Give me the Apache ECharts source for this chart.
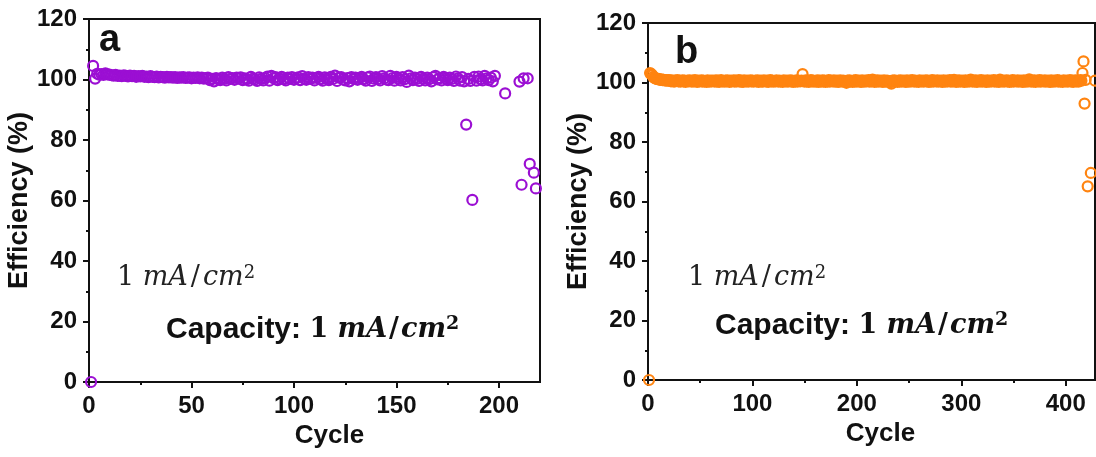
<!DOCTYPE html>
<html>
<head>
<meta charset="utf-8">
<title>Coulombic efficiency vs cycle</title>
<script src="https://cdn.jsdelivr.net/npm/echarts@6/dist/echarts.min.js"></script>
<style>
  html, body { margin: 0; padding: 0; background: #fff; }
  #chart { width: 1096px; height: 457px; }
</style>
</head>
<body>
<div id="chart"></div>
<script>
// panel a: efficiency (%) for cycles 1..198, one value per cycle
const effA = [
  0, 104.5, 100.3, 101.9, 101.6, 101.8, 101.5, 102.0, 101.7, 101.6,
  101.4, 101.3, 101.5, 101.2, 101.3, 101.1, 101.4, 101.2, 101.0, 101.3,
  101.1, 101.2, 100.9, 101.1, 101.0, 101.2, 100.9, 101.0, 100.8, 101.1,
  100.9, 100.8, 101.0, 100.7, 100.9, 100.8, 100.6, 100.9, 100.7, 100.8,
  100.6, 100.8, 100.5, 100.7, 100.6, 100.8, 100.5, 100.6, 100.7, 100.4,
  100.6, 100.5, 100.7, 100.4, 100.6, 100.3, 100.5, 100.6, 99.8, 100.2,
  99.4, 100.5, 100.1, 99.8, 100.6, 100.3, 99.7, 100.8, 100.2, 100.5,
  99.9, 100.6, 100.3, 100.7, 99.8, 100.4, 100.1, 99.6, 100.9, 100.3,
  100.0, 99.5, 100.7, 100.2, 99.7, 100.5, 101.0, 99.6, 101.2, 100.4,
  100.8, 99.8, 100.3, 100.9, 100.1, 99.7, 100.6, 100.2, 100.8, 99.9,
  100.4, 100.7, 99.8, 101.1, 100.3, 99.9, 100.8, 100.2, 100.6, 99.7,
  100.5, 100.9, 100.1, 99.6, 100.7, 100.3, 99.8, 100.9, 100.2, 101.3,
  99.5, 100.6, 100.8, 100.0, 99.7, 100.5, 99.4, 100.8, 100.2, 100.6,
  99.9, 100.4, 100.9, 100.1, 99.6, 100.7, 101.0, 99.5, 100.3, 100.8,
  100.2, 99.7, 101.1, 100.4, 100.0, 99.8, 101.2, 100.5, 99.6, 100.9,
  100.3, 99.7, 100.8, 100.1, 99.2, 101.3, 100.4, 99.8, 100.6, 100.2,
  99.5, 100.9, 100.3, 99.7, 100.6, 100.1, 99.4, 100.8, 101.2, 100.0,
  100.5, 99.7, 100.9, 100.3, 99.8, 100.6, 100.2, 99.5, 101.0, 100.4,
  99.6, 100.8, 99.4, 85.1, 100.2, 99.5, 60.2, 100.9, 99.6, 101.0,
  100.1, 99.7, 101.2, 100.4, 99.8, 100.6, 99.4, 101.2
];
// panel a: scattered last cycles
const tailCycA = [203, 210, 211, 212, 214, 215, 217, 218];
const tailEffA = [95.4, 99.3, 65.2, 100.4, 100.4, 72.1, 69.2, 64.0];

// panel b: efficiency (%) for cycles 1..412
const effB = [
  0, 103.2, 102.8, 102.5, 101.9, 101.6, 101.4, 101.3, 101.1, 101.2,
  101.0, 100.9, 101.1, 100.8, 100.9, 100.7, 100.8, 100.6, 100.7, 100.8,
  100.6, 100.4, 100.7, 100.5, 100.3, 100.6, 100.5, 100.8, 100.4, 100.6, 100.3, 100.5, 100.7, 100.4, 100.6, 100.2, 100.5, 100.6, 100.4, 100.7,
  100.5, 100.3, 100.6, 100.4, 100.8, 100.5, 100.2, 100.6, 100.4, 100.5, 100.7, 100.3, 100.6, 100.4, 100.5, 100.2, 100.7, 100.5, 100.3, 100.6,
  100.4, 100.6, 100.5, 100.3, 100.7, 100.4, 100.6, 100.2, 100.5, 100.8, 100.4, 100.5, 100.3, 100.6, 100.4, 100.7, 100.5, 100.2, 100.6, 100.4,
  100.5, 100.7, 100.3, 100.6, 100.4, 100.5, 100.8, 100.3, 100.6, 100.4, 100.2, 100.7, 100.5, 100.4, 100.6, 100.3, 100.5, 100.7, 100.4, 100.6,
  100.3, 100.5, 100.6, 100.4, 100.7, 100.2, 100.5, 100.6, 100.4, 100.3, 100.7, 100.5, 100.4, 100.6, 100.2, 100.5, 100.8, 100.4, 100.6, 100.3,
  100.5, 100.4, 100.7, 100.5, 100.3, 100.6, 100.4, 100.5, 100.2, 100.7, 100.5, 100.4, 100.6, 100.3, 100.5, 100.7, 100.4, 100.6, 100.2, 100.5,
  100.4, 100.7, 100.3, 100.6, 100.5, 100.4, 100.6,
  102.8,
  100.5, 100.3, 100.7, 100.4, 100.6, 100.2, 100.5, 100.8, 100.4, 100.6, 100.3, 100.5,
  100.4, 100.7, 100.2, 100.6, 100.5, 100.3, 100.7, 100.4, 100.6, 100.2, 100.5, 100.4, 100.8, 100.3, 100.6, 100.5, 100.4, 100.7, 100.3, 100.5,
  100.6, 100.2, 100.4, 100.7, 100.5, 100.3, 100.6, 100.4, 100.5, 99.9, 100.6, 100.3, 100.7, 100.4, 100.5, 100.2, 100.6, 100.4, 100.8, 100.3,
  100.5, 100.6, 100.4, 100.2, 100.7, 100.5, 100.3, 100.6, 100.4, 100.5, 100.8, 100.3, 100.6, 100.4, 101.0, 100.5, 100.2, 100.6, 100.4, 100.7,
  100.3, 100.5, 100.6, 100.4, 100.2, 100.7, 100.5, 100.3, 100.6, 100.4, 100.5, 100.1, 99.6, 100.6, 100.3, 100.7, 100.4, 100.5, 100.2, 100.6,
  100.4, 100.7, 100.3, 100.5, 100.6, 100.4, 100.2, 100.7, 100.5, 100.3, 100.6, 100.4, 100.8, 100.5, 100.3, 100.6, 100.4, 100.5, 100.2, 100.7,
  100.5, 100.4, 100.6, 100.3, 100.5, 100.7, 100.4, 100.6, 100.2, 100.5, 100.4, 100.8, 100.3, 100.6, 100.5, 100.4, 100.7, 100.3, 100.5, 100.6,
  100.4, 100.2, 100.7, 100.5, 100.3, 100.6, 100.4, 100.5, 100.8, 100.3, 100.6, 100.4, 100.9, 100.5, 100.2, 100.6, 100.4, 100.7, 100.3, 100.5,
  100.6, 100.4, 100.2, 100.7, 100.5, 100.3, 100.6, 100.4, 101.0, 100.5, 100.3, 100.6, 100.4, 100.7, 100.2, 100.5, 100.6, 100.4, 100.8, 100.3,
  100.5, 100.6, 100.4, 100.2, 100.7, 100.5, 100.3, 100.6, 100.4, 100.5, 100.8, 100.3, 100.6, 100.4, 100.5, 100.2, 101.0, 100.5, 100.4, 100.6,
  100.3, 100.5, 100.7, 100.4, 100.6, 100.2, 100.5, 100.4, 100.8, 100.3, 100.6, 100.5, 100.4, 100.7, 100.3, 100.5, 100.6, 100.4, 100.2, 100.7,
  100.5, 100.3, 100.6, 100.4, 101.1, 100.5, 100.3, 100.6, 100.4, 100.7, 100.2, 100.5, 100.6, 100.4, 100.8, 100.3, 100.6, 100.5, 100.4, 100.7,
  100.3, 100.5, 100.6, 100.4, 100.2, 100.7, 100.5, 100.3, 100.6, 100.4, 100.5, 100.8, 100.3, 100.6, 100.4, 100.5, 100.2, 100.7, 100.5, 100.4,
  100.6, 100.3, 100.5, 100.8, 100.4, 100.6, 100.2, 100.5, 100.7, 100.4, 100.6, 100.3
];
// panel b: scattered last cycles
const tailCycB = [413, 414, 415, 416, 417, 418, 419, 421, 424, 428];
const tailEffB = [100.5, 100.8, 100.6, 103.2, 107.1, 92.9, 100.9, 65.1, 69.6, 100.6];

const xTicksA = [0, 50, 100, 150, 200];
const xTicksB = [0, 100, 200, 300, 400];

const PURPLE = '#9b0fd3';
const ORANGE = '#ff8410';
const SANS = '"Liberation Sans", Arial, sans-serif';
const SERIF = '"DejaVu Serif", serif';

function pairs(vals, tailC, tailV) {
  const out = vals.map((v, i) => [i + 1, v]);
  tailC.forEach((c, i) => out.push([c, tailV[i]]));
  return out;
}

function xAxisFor(gridIndex, max, interval, ticks, padLeft) {
  return {
    gridIndex: gridIndex,
    type: 'value',
    min: 0,
    max: max,
    interval: interval,
    name: 'Cycle',
    nameLocation: 'middle',
    nameGap: 41,
    nameTextStyle: { fontFamily: SANS, fontWeight: 'bold', fontSize: 26, color: '#111', padding: [0, 0, 0, padLeft] },
    axisLine: { lineStyle: { color: '#111', width: 2 } },
    axisTick: { length: 6, lineStyle: { color: '#111', width: 2 }, customValues: ticks },
    minorTick: { show: true, splitNumber: 2, length: 3, lineStyle: { color: '#111', width: 2 } },
    axisLabel: { customValues: ticks, margin: 12, fontFamily: SANS, fontWeight: 'bold', fontSize: 24, color: '#111' },
    splitLine: { show: false }
  };
}

function yAxisFor(gridIndex) {
  return {
    gridIndex: gridIndex,
    type: 'value',
    min: 0,
    max: 120,
    interval: 20,
    name: 'Efficiency (%)',
    nameLocation: 'middle',
    nameGap: 54,
    nameTextStyle: { fontFamily: SANS, fontWeight: 'bold', fontSize: 27, color: '#111' },
    axisLine: { show: true, lineStyle: { color: '#111', width: 2 } },
    axisTick: { show: true, length: 6, lineStyle: { color: '#111', width: 2 } },
    minorTick: { show: true, splitNumber: 2, length: 3, lineStyle: { color: '#111', width: 2 } },
    axisLabel: { margin: 12, fontFamily: SANS, fontWeight: 'bold', fontSize: 24, color: '#111' },
    splitLine: { show: false }
  };
}

function scatter(idx, data, color) {
  return {
    type: 'scatter',
    xAxisIndex: idx,
    yAxisIndex: idx,
    data: data,
    symbol: 'circle',
    symbolSize: 10,
    clip: true,
    itemStyle: { color: 'rgba(255,255,255,0)', borderColor: color, borderWidth: 2.2, opacity: 1 }
  };
}

// annotation text: plain "1 mA/cm2" and bold "Capacity: 1 mA/cm2"
const unitRich = {
  n: { fontFamily: SERIF, fontSize: 27, fill: '#222' },
  i: { fontFamily: SERIF, fontSize: 27, fontStyle: 'italic', fill: '#222' },
  sl: { fontFamily: SERIF, fontSize: 27, fill: '#222', padding: [0, 3, 0, 3] },
  s: { fontFamily: SERIF, fontSize: 18, fill: '#222', verticalAlign: 'top' }
};
const capRich = {
  c: { fontFamily: SANS, fontSize: 30, fontWeight: 'bold', fill: '#111' },
  n: { fontFamily: SERIF, fontSize: 27, fontWeight: 'bold', fill: '#111' },
  i: { fontFamily: SERIF, fontSize: 27, fontWeight: 'bold', fontStyle: 'italic', fill: '#111' },
  sl: { fontFamily: SERIF, fontSize: 27, fontWeight: 'bold', fill: '#111', padding: [0, 2, 0, 2] },
  s: { fontFamily: SERIF, fontSize: 19, fontWeight: 'bold', fill: '#111', verticalAlign: 'top' }
};
const unitText = '{n|1 }{i|mA}{sl|/}{i|cm}{s|2}';
const capText = '{c|Capacity: }{n|1 }{i|mA}{sl|/}{i|cm}{s|2}';

function label(x, y, text, rich) {
  return { type: 'text', x: x, y: y, z: 10, style: { text: text, rich: rich, verticalAlign: 'middle' } };
}
function letter(x, y, ch) {
  return { type: 'text', x: x, y: y, z: 10, style: { text: ch, font: 'bold 38px ' + SANS, fill: '#111', verticalAlign: 'top' } };
}

const chart = echarts.init(document.getElementById('chart'));
chart.setOption({
  animation: false,
  backgroundColor: '#fff',
  grid: [
    { left: 89, top: 19, width: 451, height: 363, show: true, borderColor: '#111', borderWidth: 2 },
    { left: 648, top: 23, width: 447, height: 357, show: true, borderColor: '#111', borderWidth: 2 }
  ],
  xAxis: [xAxisFor(0, 220, 50, xTicksA, 30), xAxisFor(1, 428, 100, xTicksB, 18)],
  yAxis: [yAxisFor(0), yAxisFor(1)],
  series: [
    scatter(0, pairs(effA, tailCycA, tailEffA), PURPLE),
    scatter(1, pairs(effB, tailCycB, tailEffB), ORANGE)
  ],
  graphic: [
    letter(99, 22, 'a'),
    letter(675, 34, 'b'),
    label(117, 278, unitText, unitRich),
    label(688, 278, unitText, unitRich),
    label(166, 330, capText, capRich),
    label(715, 326, capText, capRich)
  ]
});
</script>
</body>
</html>
